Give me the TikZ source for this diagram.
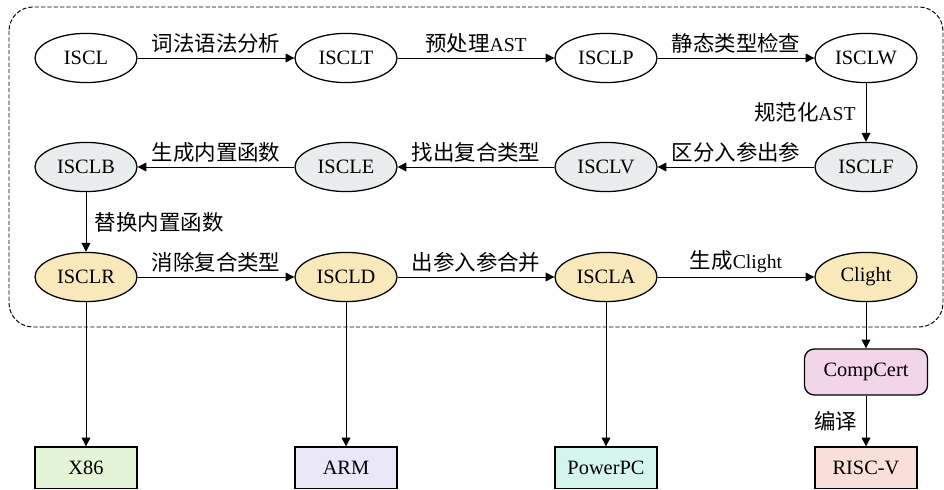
\documentclass[tikz,border=0pt]{standalone}
\usepackage{fontspec}
\setmainfont{Liberation Serif}
\newfontfamily\zh[Scale=1.09]{Noto Sans CJK SC}
\usetikzlibrary{shapes.geometric,arrows.meta}

\definecolor{passgray}{HTML}{E9EDED}
\definecolor{passyel}{HTML}{F9E8BA}
\definecolor{tgtx}{HTML}{E4F4D6}
\definecolor{tgtarm}{HTML}{EAE7F8}
\definecolor{tgtppc}{HTML}{D4F5EC}
\definecolor{tgtrv}{HTML}{F8DFD8}
\definecolor{ccpink}{HTML}{F2D5E8}

\begin{document}
\begin{tikzpicture}[line width=0.7pt, font=\fontsize{14.5}{17}\selectfont]

  \tikzset{
    ir/.style   = {ellipse, draw, line width=0.9pt, minimum width=2.55cm,
                   minimum height=1.23cm, inner sep=0pt},
    irb/.style  = {ir, fill=passgray},
    irc/.style  = {ir, fill=passyel},
    tgt/.style  = {draw, line width=0.9pt, minimum width=2.55cm,
                   minimum height=1.03cm, inner sep=0pt},
    flow/.style = {-{Triangle[length=2.2mm,width=2.2mm]}},
    lbl/.style  = {font=\fontsize{14}{17}\selectfont\zh, inner sep=2pt},
  }

  \def\dx{6.5}      % cm between columns
  \def\xa{2.15}     % first column

  \useasboundingbox (0,0) rectangle (23.6,-12.25);

  % ---- frame round the front end ---------------------------------------
  \draw[dash pattern=on 3pt off 1.5pt, rounded corners=0.6cm]
    (0.225,-0.175) rectangle (23.575,-8.175);

  % ---- the three rows of passes -----------------------------------------
  \foreach \n/\i/\t in {iscl/0/ISCL, isclt/1/ISCLT, isclp/2/ISCLP, isclw/3/ISCLW}
    \node[ir] (\n) at (\xa+\i*\dx,-1.45) {\t};

  \foreach \n/\i/\t in {isclb/0/ISCLB, iscle/1/ISCLE, isclv/2/ISCLV, isclf/3/ISCLF}
    \node[irb] (\n) at (\xa+\i*\dx,-4.175) {\t};

  \foreach \n/\i/\t in {isclr/0/ISCLR, iscld/1/ISCLD, iscla/2/ISCLA, clight/3/Clight}
    \node[irc] (\n) at (\xa+\i*\dx,-6.925) {\t};

  % ---- back ends ---------------------------------------------------------
  \node[tgt, fill=tgtx]   (x86)   at (\xa,-11.69)        {X86};
  \node[tgt, fill=tgtarm] (arm)   at (\xa+\dx,-11.69)    {ARM};
  \node[tgt, fill=tgtppc] (ppc)   at (\xa+2*\dx,-11.69)  {PowerPC};
  \node[tgt, fill=tgtrv]  (riscv) at (\xa+3*\dx,-11.69)  {RISC-V};
  \node[draw, line width=0.9pt, fill=ccpink, rounded corners=0.25cm,
        minimum width=3.08cm, minimum height=1.15cm, inner sep=0pt]
        (cc) at (\xa+3*\dx,-9.3) {CompCert};

  % ---- transformations ---------------------------------------------------
  \foreach \a/\b/\t in {iscl/isclt/{词法语法分析},
                        isclt/isclp/{预处理\rmfamily AST},
                        isclp/isclw/{静态类型检查},
                        isclf/isclv/{区分入参出参},
                        isclv/iscle/{找出复合类型},
                        iscle/isclb/{生成内置函数},
                        isclr/iscld/{消除复合类型},
                        iscld/iscla/{出参入参合并},
                        iscla/clight/{生成\rmfamily Clight}}
    \draw[flow] (\a) -- node[lbl,above=1pt] {\t} (\b);

  \draw[flow] (isclw) -- node[lbl,left=5pt] {规范化\rmfamily AST} (isclf);
  \draw[flow] (isclb) -- node[lbl,right=4pt] {替换内置函数} (isclr);

  \foreach \a/\b in {isclr/x86, iscld/arm, iscla/ppc, clight/cc}
    \draw[flow] (\a) -- (\b);
  \draw[flow] (cc) -- node[lbl,left=4pt] {编译} (riscv);

\end{tikzpicture}
\end{document}
